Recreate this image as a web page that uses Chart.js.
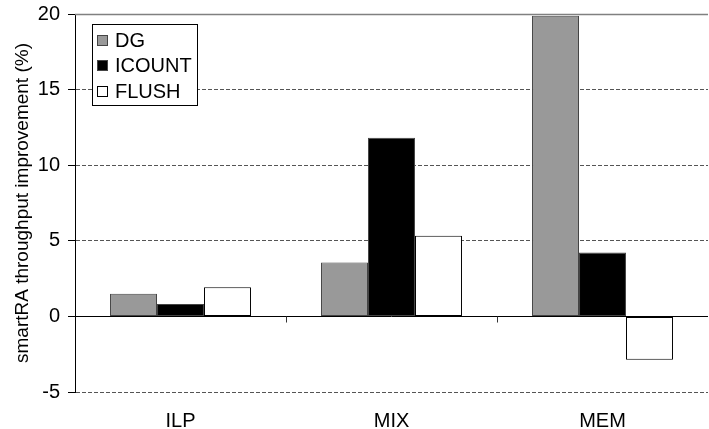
<!DOCTYPE html>
<html>
<head>
<meta charset="utf-8">
<script src="https://cdn.jsdelivr.net/npm/chart.js@4/dist/chart.umd.min.js"></script>
<style>
  html, body { margin: 0; padding: 0; background: #fff; }
  canvas { display: block; }
</style>
</head>
<body>
<canvas id="chart" width="709" height="429"></canvas>
<script>
const categories = ['ILP', 'MIX', 'MEM'];
const dgValues = [1.5, 3.57, 19.88];
const icountValues = [0.82, 11.82, 4.23];
const flushValues = [1.92, 5.34, -2.87];
const yTicks = [-5, 0, 5, 10, 15, 20];

const FONT = 'Arial, "Liberation Sans", sans-serif';

// zero line, top frame line and category tick marks
const axisLines = {
    id: 'axisLines',
    afterDatasetsDraw(chart) {
        const { ctx, chartArea: a, scales: { x, y } } = chart;
        const y0 = Math.round(y.getPixelForValue(0)) + 0.5;
        const yTop = Math.round(y.getPixelForValue(yTicks[yTicks.length - 1])) + 0.5;
        ctx.save();
        ctx.strokeStyle = '#808080';
        ctx.lineWidth = 1.5;
        ctx.beginPath(); ctx.moveTo(a.left, yTop); ctx.lineTo(a.right, yTop); ctx.stroke();
        ctx.strokeStyle = '#000';
        ctx.lineWidth = 1;
        ctx.beginPath(); ctx.moveTo(a.left, y0); ctx.lineTo(a.right, y0); ctx.stroke();
        const step = x.getPixelForTick(1) - x.getPixelForTick(0);
        ctx.strokeStyle = '#333';
        for (let i = 0; i < categories.length - 1; i++) {
            const bx = Math.round(x.getPixelForTick(i) + step / 2) + 0.5;
            ctx.beginPath(); ctx.moveTo(bx, y0); ctx.lineTo(bx, y0 + 6); ctx.stroke();
        }
        ctx.restore();
    }
};

// boxed legend in the top left corner
const boxLegend = {
    id: 'boxLegend',
    afterDraw(chart) {
        const { ctx } = chart;
        ctx.save();
        ctx.fillStyle = '#fff';
        ctx.fillRect(92, 24, 105, 81);
        ctx.strokeStyle = '#000';
        ctx.lineWidth = 1;
        ctx.strokeRect(92.5, 24.5, 105, 81);
        ctx.font = '20px ' + FONT;
        ctx.textBaseline = 'middle';
        chart.data.datasets.forEach((ds, i) => {
            const cy = 40 + i * 25.8;
            ctx.fillStyle = ds.backgroundColor;
            ctx.fillRect(97, Math.round(cy - 5.5), 11, 11);
            ctx.strokeStyle = ds.borderColor;
            ctx.strokeRect(97.5, Math.round(cy - 5.5) + 0.5, 10, 10);
            ctx.fillStyle = '#000';
            ctx.fillText(ds.label, 115, cy + 1);
        });
        ctx.restore();
    }
};

new Chart(document.getElementById('chart'), {
    type: 'bar',
    data: {
        labels: categories,
        datasets: [
            { label: 'DG', data: dgValues, backgroundColor: '#999999', borderColor: '#444' },
            { label: 'ICOUNT', data: icountValues, backgroundColor: '#000000', borderColor: '#444' },
            { label: 'FLUSH', data: flushValues, backgroundColor: '#ffffff', borderColor: '#000' }
        ]
    },
    options: {
        responsive: false,
        animation: false,
        layout: { padding: { top: 14, right: 1, left: 0, bottom: 0 } },
        datasets: {
            bar: { borderWidth: 1, borderSkipped: false, barPercentage: 1, categoryPercentage: 0.668 }
        },
        plugins: { legend: { display: false }, tooltip: { enabled: false } },
        scales: {
            x: {
                grid: { display: false },
                border: { display: false },
                ticks: { color: '#000', font: { family: FONT, size: 20 }, padding: 9, maxRotation: 0 },
                afterFit(scale) { scale.height = 37; }
            },
            y: {
                min: yTicks[0],
                max: yTicks[yTicks.length - 1],
                afterBuildTicks(scale) { scale.ticks = yTicks.map(v => ({ value: v })); },
                ticks: { color: '#000', font: { family: FONT, size: 20 }, padding: 8 },
                grid: {
                    color: c => (c.tick && (c.tick.value === 0 || c.tick.value === 20)) ? 'rgba(0,0,0,0)' : '#555',
                    lineWidth: 1,
                    tickColor: '#000',
                    tickLength: 7
                },
                border: { display: true, color: '#000', width: 1, dash: [4, 2] },
                title: {
                    display: true,
                    text: 'smartRA throughput improvement (%)',
                    color: '#000',
                    font: { family: FONT, size: 19 },
                    padding: { top: 11, bottom: 0 }
                },
                afterFit(scale) {
                    scale.width = 75;
                    scale.paddingTop = 0;
                    scale.paddingBottom = 0;
                }
            }
        }
    },
    plugins: [axisLines, boxLegend]
});
</script>
</body>
</html>
